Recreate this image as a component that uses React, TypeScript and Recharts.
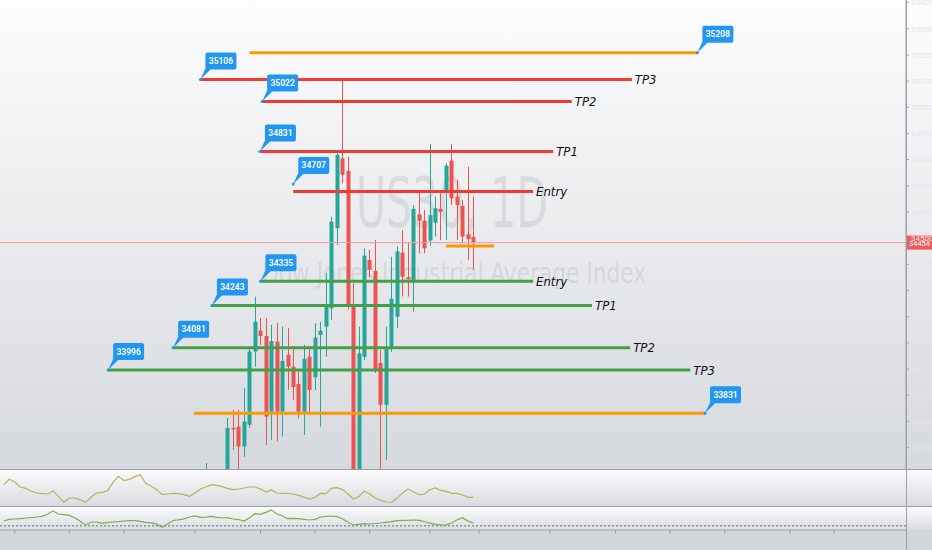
import React from "react";
import {
  ComposedChart,
  LineChart,
  Line,
  Bar,
  XAxis,
  YAxis,
  ReferenceLine,
  ReferenceDot,
} from "recharts";

// daily candles (bar index on the time scale)
const days = [37, 41, 42, 43, 44, 45, 46, 47, 48, 49, 50, 51, 52, 53, 54, 55, 56, 57, 58, 59, 60, 61, 62, 63, 64, 65, 66, 67, 68, 69, 70, 71, 72, 73, 74, 75, 76, 77, 78, 79, 80, 81, 82, 83, 84, 85, 86];
const opens = [33560, 33560, 33775, 33780, 33704, 33787, 34067, 34147, 34126, 33837, 34105, 33837, 34054, 34009, 33943, 33837, 34047, 33969, 34130, 34162, 34232, 34538, 34805, 34757, 34245, 33520, 34047, 34417, 34375, 34023, 33863, 34085, 34200, 34445, 34351, 34340, 34591, 34567, 34491, 34559, 34612, 34678, 34796, 34659, 34623, 34515, 34504];
const highs = [33641, 33813, 33844, 33844, 33928, 34077, 34277, 34195, 34195, 34169, 34176, 34162, 34157, 34086, 33997, 34092, 34086, 34175, 34181, 34366, 34582, 34826, 35104, 34811, 34328, 34162, 34461, 34455, 34493, 34073, 34162, 34429, 34468, 34531, 34481, 34627, 34672, 34608, 34860, 34659, 34672, 34786, 34860, 34722, 34646, 34773, 34659];
const lows = [33500, 33520, 33691, 33615, 33664, 33775, 34009, 34092, 33710, 33729, 33723, 33742, 33920, 33882, 33812, 33748, 33831, 33920, 33780, 34047, 34188, 34474, 34710, 34226, 33450, 33480, 34035, 34348, 33985, 33615, 33653, 34065, 34156, 34277, 34277, 34219, 34442, 34442, 34470, 34506, 34493, 34493, 34627, 34493, 34481, 34417, 34379];
const closes = [33600, 33775, 33769, 33704, 33799, 34067, 34181, 34126, 33818, 34107, 33837, 34031, 34009, 33931, 33837, 34039, 33920, 34120, 34146, 34238, 34563, 34818, 34742, 34238, 33500, 34060, 34433, 34379, 33997, 33863, 34081, 34268, 34449, 34353, 34343, 34612, 34567, 34461, 34588, 34614, 34601, 34777, 34652, 34627, 34506, 34496, 34483];
const lastPriceText = "34454";

// lower indicator panes, one value per bar 0..86
const oscA = [70, 86, 78, 63, 59, 51, 45, 43, 42, 52, 35, 17, 30, 30, 24.5, 17, 33, 45, 47, 52, 77, 95, 82, 86, 94, 100, 74, 65, 55, 40, 42, 44, 43, 40, 35, 45, 57, 63, 70, 68, 64, 58, 55, 57, 60, 63, 63, 57, 48, 54, 45, 44, 44, 42, 38, 32, 27, 32, 44, 43, 59, 61, 56, 42, 27, 33.5, 51, 42, 31, 23, 18, 17, 29, 44.5, 57, 49, 40, 41.5, 55, 60, 53, 50, 44, 44, 39, 32, 32];
const oscB = [21, 26, 27, 28, 30, 31, 33, 35, 41, 51.5, 42, 40, 38, 31, 20, 8.6, 18, 18, 14, 17, 18, 19, 21, 22, 22, 20, 17, 15.6, 11.6, 2, 12, 22.5, 24.6, 27.4, 33, 36.6, 32, 32.4, 35, 32, 30.7, 31, 27, 25.4, 21, 31, 43, 40.7, 47, 54.4, 42, 36, 28, 29, 28, 26, 24, 26, 33, 35, 36, 34, 28, 17, 9, 11, 13, 12, 13.5, 15, 17, 19, 22, 22.7, 23.3, 24, 22.7, 19.6, 14.4, 11, 8.6, 9.3, 15, 24.7, 31, 20.7, 15];
const oscBLevel = 7;

// drawn levels
const levelPrices = [35208, 35106, 35022, 34831, 34678, 34470, 34335, 34243, 34081, 33996, 33831];
const levelFrom = [45, 36, 47.3, 46.9, 53, 81, 47, 38.1, 31, 19.1, 34.8];
const levelTo = [127, 115, 104, 100.6, 96.9, 89.8, 96.9, 107.7, 114.7, 125.7, 128.4];
const levelKinds = ["zone", "short", "short", "short", "short", "zone", "long", "long", "long", "long", "zone"];
const levelTags = ["", "TP3", "TP2", "TP1", "Entry", "", "Entry", "TP1", "TP2", "TP3", ""];

const calloutPrices = [35208, 35106, 35022, 34831, 34707, 34335, 34243, 34081, 33996, 33831];
const calloutAt = [127, 36, 47.3, 46.9, 53, 47, 38.1, 31, 19.1, 128.4];

const priceTicks = [33700, 33800, 33900, 34000, 34100, 34200, 34300, 34400, 34500, 34600, 34700, 34800, 34900, 35000, 35100, 35200, 35300, 35400];
const timeTicks = [2, 12, 22, 35, 47, 57, 67, 78, 87, 100, 112, 122, 132, 144, 152];

const candles = days.map((i, k) => ({ i, open: opens[k], high: highs[k], low: lows[k], close: closes[k] }));
const oscAData = oscA.map((v, i) => ({ i, v }));
const oscBData = oscB.map((v, i) => ({ i, v }));
const lastClose = closes[closes.length - 1];

const UP = "#26a69a";
const DOWN = "#ef5350";
const kindColor: Record<string, string> = { zone: "#ff9800", short: "#f23b30", long: "#43a047" };
const BLUE = "#2196f3";
const X_DOMAIN: [number, number] = [-0.7, 165.2];
const AXIS = "#9da0a6";
const NARROW = "'Liberation Sans Narrow', 'DejaVu Sans Condensed', sans-serif";

const Candle = (props: any) => {
  const { x, y, width, height, payload } = props;
  if (x == null || !payload) return null;
  const { open, close, high, low } = payload;
  const cx = Math.round(x + width / 2) + 0.5;
  const k = height / (high - low);
  const top = y + (high - Math.max(open, close)) * k;
  const bottom = y + (high - Math.min(open, close)) * k;
  const color = close >= open ? UP : DOWN;
  return (
    <g>
      <line x1={cx} x2={cx} y1={y} y2={y + height} stroke={color} strokeWidth={1} />
      <rect x={cx - 2} y={top} width={4} height={Math.max(1, bottom - top)} fill={color} />
    </g>
  );
};

const Callout = (props: any) => {
  const { cx, cy, text } = props;
  if (cx == null) return null;
  return (
    <g>
      <path d={`M${cx},${cy} L${cx + 5},${cy - 11} L${cx + 11},${cy - 11} Z`} fill={BLUE} />
      <rect x={cx + 5} y={cy - 27} width={31} height={17} rx={2} fill={BLUE} />
      <text x={cx + 20.5} y={cy - 15.5} textAnchor="middle" fill="#fff" fontSize={8.5} fontWeight={600} fontFamily="Roboto, sans-serif">
        {text}
      </text>
      <circle cx={cx} cy={cy} r={1.5} fill={BLUE} />
    </g>
  );
};

const Tag = (props: any) => {
  const { cx, cy, text } = props;
  if (cx == null || !text) return null;
  return (
    <text x={cx + 3} y={cy + 4.5} fill="#111" fontSize={13} fontStyle="italic" fontFamily={NARROW}>
      {text}
    </text>
  );
};

const PriceTag = (props: any) => {
  const { cx, cy } = props;
  if (cx == null) return null;
  return (
    <g>
      <rect x={cx + 1} y={cy - 7} width={25} height={14} fill="#f05a5a" />
      <text x={cx + 13.5} y={cy + 3} textAnchor="middle" fill="#fff" fontSize={7.5} fontFamily="Roboto, sans-serif">
        {lastPriceText}
      </text>
    </g>
  );
};

const abs = (top: number, height: number, extra: React.CSSProperties = {}): React.CSSProperties => ({
  position: "absolute",
  left: 0,
  top,
  width: 932,
  height,
  ...extra,
});

export default function App() {
  return (
    <div style={{ position: "relative", width: 932, height: 550, overflow: "hidden", background: "#d3d6db" }}>
      <style>{"html,body{margin:0;padding:0;}"}</style>
      <div style={abs(0, 469, { background: "linear-gradient(#fdfdfd, #d6d9de)" })} />
      <svg style={abs(0, 469)} width={932} height={469}>
        <text x={356} y={227} fontSize={70} fill="#787b86" fillOpacity={0.17} textLength={192} lengthAdjust="spacingAndGlyphs" fontFamily={NARROW}>
          US30, 1D
        </text>
        <text x={262} y={283} fontSize={29} fill="#787b86" fillOpacity={0.17} textLength={384} lengthAdjust="spacingAndGlyphs" fontFamily={NARROW}>
          Dow Jones Industrial Average Index
        </text>
      </svg>
      <div style={abs(0, 469)}>
        <ComposedChart width={932} height={469} data={candles} margin={{ top: 0, right: 0, bottom: 0, left: 0 }}>
          <XAxis dataKey="i" type="number" domain={X_DOMAIN} allowDataOverflow hide />
          <YAxis
            orientation="right"
            width={26}
            domain={[33618, 35410]}
            allowDataOverflow
            ticks={priceTicks}
            interval={0}
            axisLine={{ stroke: AXIS }}
            tickLine={{ stroke: AXIS }}
            tickSize={3}
            tick={{ fill: "#e4e6ea", fontSize: 8, fontFamily: "Roboto, sans-serif" }}
          />
          <ReferenceLine y={lastClose} stroke="#f59ca2" strokeWidth={1} />
          <Bar dataKey={(d: any) => [d.low, d.high]} barSize={5} shape={<Candle />} isAnimationActive={false} />
          {levelPrices.map((p, k) => (
            <ReferenceLine
              key={"l" + k}
              segment={[
                { x: levelFrom[k], y: p },
                { x: levelTo[k], y: p },
              ]}
              stroke={kindColor[levelKinds[k]]}
              strokeWidth={3}
            />
          ))}
          {levelPrices.map((p, k) => (
            <ReferenceDot key={"t" + k} x={levelTo[k]} y={p} r={0} shape={(s: any) => <Tag {...s} text={levelTags[k]} />} />
          ))}
          {calloutPrices.map((p, k) => (
            <ReferenceDot key={"c" + k} x={calloutAt[k]} y={p} r={0} shape={(s: any) => <Callout {...s} text={String(p)} />} />
          ))}
          <ReferenceDot x={X_DOMAIN[1]} y={lastClose} r={0} shape={(s: any) => <PriceTag {...s} />} />
        </ComposedChart>
      </div>
      <div style={abs(469, 1, { background: "#9a9da3" })} />
      <div style={abs(470, 36, { background: "linear-gradient(#fbfbfc, #d9dbe0)" })} />
      <div style={abs(470, 36)}>
        <LineChart width={932} height={36} data={oscAData} margin={{ top: 0, right: 26, bottom: 0, left: 0 }}>
          <XAxis dataKey="i" type="number" domain={X_DOMAIN} allowDataOverflow hide />
          <YAxis domain={[6, 114]} allowDataOverflow hide />
          <Line dataKey="v" stroke="#b4b55c" strokeWidth={1.2} dot={false} isAnimationActive={false} />
        </LineChart>
      </div>
      <div style={abs(506, 1, { background: "#9a9da3" })} />
      <div style={abs(507, 23, { background: "linear-gradient(#fbfbfc, #dadce1)" })} />
      <div style={abs(507, 43)}>
        <ComposedChart width={932} height={43} data={oscBData} margin={{ top: 0, right: 26, bottom: 0, left: 0 }}>
          <XAxis
            dataKey="i"
            type="number"
            domain={X_DOMAIN}
            allowDataOverflow
            ticks={timeTicks}
            interval={0}
            height={20}
            axisLine={{ stroke: AXIS }}
            tickLine={{ stroke: AXIS }}
            tickSize={4}
            tickFormatter={() => ""}
          />
          <YAxis domain={[-6, 63]} allowDataOverflow hide />
          <ReferenceLine y={oscBLevel} stroke="#8e9197" strokeWidth={1.5} strokeDasharray="2 2" />
          <Line dataKey="v" stroke="#7cae4a" strokeWidth={1.2} dot={false} isAnimationActive={false} />
        </ComposedChart>
      </div>
      <div style={{ position: "absolute", left: 906, top: 0, width: 1, height: 550, background: AXIS }} />
    </div>
  );
}
